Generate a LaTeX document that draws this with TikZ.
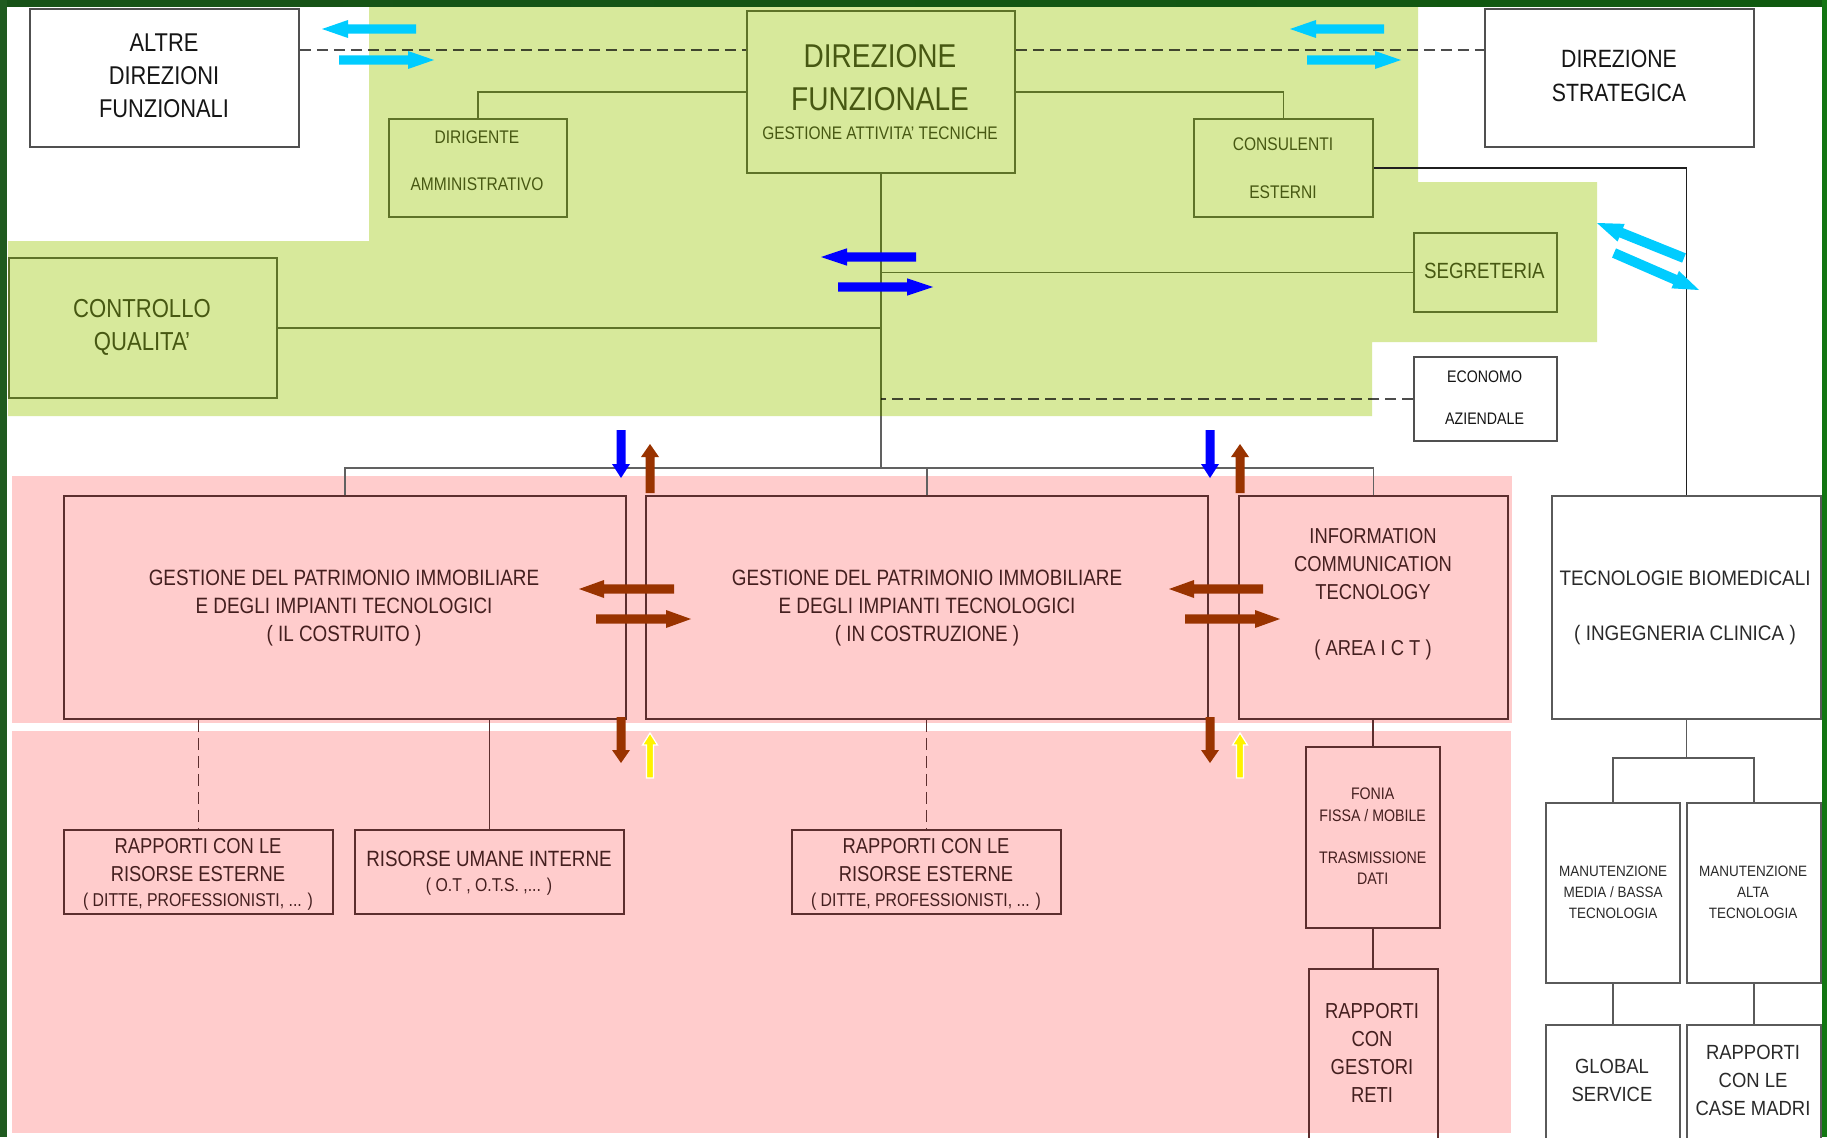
\documentclass[tikz,border=0pt]{standalone}
\usepackage{fontspec}
\setmainfont{Liberation Sans}
\newfontfamily\narrowf[FakeStretch=0.85]{Liberation Sans}
\newfontfamily\widef[FakeStretch=0.9]{Liberation Sans}
\usetikzlibrary{calc}
\newcommand{\fsz}[2]{\fontsize{#1}{#2}\selectfont}
\definecolor{gbg}{HTML}{D7E99B}
\definecolor{pbg}{HTML}{FFCCCC}
\definecolor{gedge}{HTML}{5E7328}
\definecolor{gtext}{HTML}{475812}
\definecolor{pedge}{HTML}{5C2E2E}
\definecolor{ptext}{HTML}{441F1F}
\definecolor{boxgray}{HTML}{505050}
\definecolor{rgray}{HTML}{5A5A5A}
\definecolor{tblack}{HTML}{151515}
\definecolor{rtext}{HTML}{2A2A2A}
\definecolor{cyanarr}{HTML}{00CCFF}
\definecolor{bluearr}{HTML}{0000FF}
\definecolor{brownarr}{HTML}{993300}
\definecolor{fdark}{HTML}{175217}
\definecolor{flight}{HTML}{4F8F3F}
\definecolor{fdarkr}{HTML}{105A10}
\definecolor{fleft}{HTML}{1F5A1F}
\definecolor{fright}{HTML}{127612}
\pgfdeclarelayer{bg}
\pgfdeclarelayer{lines}
\pgfdeclarelayer{front}
\pgfsetlayers{bg,lines,main,front}
\tikzset{
  sz/.style 2 args={minimum width=#1pt, minimum height=#2pt},
  wbox/.style={rectangle, inner sep=0, draw=boxgray, line width=1.8pt, fill=white},
  gbox/.style={rectangle, inner sep=0, draw=gedge, line width=1.8pt, fill=gbg},
  pbox/.style={rectangle, inner sep=0, draw=pedge, line width=1.6pt},
  rbox/.style={rectangle, inner sep=0, draw=rgray, line width=1.8pt, fill=white},
  txt/.style={inner sep=0, align=center},
  gline/.style={draw=gedge, line width=1.6pt},
  busline/.style={draw=black!62, line width=1.8pt},
  kline/.style={draw=black!88, line width=1.6pt},
  dline/.style={draw=black, draw opacity=0.7, line width=1.6pt, dash pattern=on 11pt off 6pt},
  pline/.style={draw=pedge, line width=1.6pt},
  pdash/.style={draw=pedge, line width=1.6pt, dash pattern=on 12pt off 6pt},
  rline/.style={draw=rgray, line width=1.6pt},
  cyanf/.style={fill=cyanarr},
  bluef/.style={fill=bluearr},
  brownf/.style={fill=brownarr},
  yellowf/.style={fill=yellow, draw=white, line width=1.2pt}
}
% fat arrow: style, tail, tip, half shaft, half head, head length
\newcommand{\fatarrow}[6]{%
  \coordinate (fa-t) at #2;
  \coordinate (fa-p) at #3;
  \coordinate (fa-b) at ($(fa-p)!#6!(fa-t)$);
  \path[#1] ($(fa-t)!#4!90:(fa-p)$) -- ($(fa-b)!#4!90:(fa-p)$) -- ($(fa-b)!#5!90:(fa-p)$) -- (fa-p)
    -- ($(fa-b)!#5!-90:(fa-p)$) -- ($(fa-b)!#4!-90:(fa-p)$) -- ($(fa-t)!#4!-90:(fa-p)$) -- cycle;
}
\begin{document}
\begin{tikzpicture}[x=1pt,y=-1pt]
\useasboundingbox (0,0) rectangle (1827,1137);
\begin{pgfonlayer}{bg}
  \fill[white] (0,0) rectangle (1827,1137);
  \fill[gbg] (369,7) -- (1418,7) -- (1418,182) -- (1597,182) -- (1597,342) -- (1372,342)
    -- (1372,416) -- (8,416) -- (8,241) -- (369,241) -- cycle;
  \fill[pbg] (12,476) rectangle (1512,723);
  \fill[pbg] (12,731) rectangle (1511,1133);
\end{pgfonlayer}

% ---------- boxes ----------
\node[wbox, sz={269}{138}] (alt) at (164.5,78) {};
\node[gbox, sz={268}{162}] (dirf) at (881,92) {};
\node[wbox, sz={269}{138}] (strat) at (1619.5,78) {};
\node[gbox, sz={178}{98}] (dirig) at (478,168) {};
\node[gbox, sz={179}{98}] (cons) at (1283.5,168) {};
\node[gbox, sz={143}{79}] (segr) at (1485.5,272.5) {};
\node[gbox, sz={268}{140}] (ctrl) at (143,328) {};
\node[wbox, sz={143}{84}] (econ) at (1485.5,399) {};
\node[pbox, sz={562}{223}] (g1) at (345,607.5) {};
\node[pbox, sz={562}{223}] (g2) at (927,607.5) {};
\node[pbox, sz={269}{223}] (ict) at (1373.5,607.5) {};
\node[rbox, sz={269}{223}] (tb) at (1686.5,607.5) {};
\node[pbox, sz={269}{84}] (rre1) at (198.5,872) {};
\node[pbox, sz={269}{84}] (rui) at (489.5,872) {};
\node[pbox, sz={269}{84}] (rre2) at (926.5,872) {};
\node[pbox, sz={134}{181}] (fonia) at (1373,837.5) {};
\node[pbox, sz={129}{176}] (gest) at (1373.5,1057) {};
\node[rbox, sz={134}{180}] (man1) at (1613,893) {};
\node[rbox, sz={134}{180}] (man2) at (1754,893) {};
\node[rbox, sz={134}{120}] (glob) at (1613,1085) {};
\node[rbox, sz={134}{120}] (casem) at (1754,1085) {};

% ---------- texts ----------
\node[txt, text=tblack, font=\narrowf\fsz{25.7}{33}] (talt) at (164,75.8) {ALTRE\\DIREZIONI\\FUNZIONALI};
\node[txt, text=gtext, font=\narrowf\fsz{33}{42.7}] (tdirf) at (880,77.9) {DIREZIONE\\FUNZIONALE};
\node[txt, text=gtext, font=\narrowf\fsz{18.2}{22}] (tdirfs) at (880,132.8) {GESTIONE ATTIVITA’ TECNICHE};
\node[txt, text=tblack, font=\narrowf\fsz{25}{33.4}] (tstrat) at (1619,76) {DIREZIONE\\STRATEGICA};
\node[txt, text=gtext, font=\narrowf\fsz{18.3}{47.4}] (tdirig) at (477,160.5) {DIRIGENTE\\AMMINISTRATIVO};
\node[txt, text=gtext, font=\narrowf\fsz{18.3}{47.6}] (tcons) at (1283,168) {CONSULENTI\\ESTERNI};
\node[txt, text=gtext, font=\narrowf\fsz{22}{26}] (tsegr) at (1484.4,271.4) {SEGRETERIA};
\node[txt, text=gtext, font=\narrowf\fsz{26}{33.3}] (tctrl) at (142,327.4) {CONTROLLO\\QUALITA’};
\node[txt, text=tblack, font=\narrowf\fsz{16.7}{42.3}] (tecon) at (1484.6,397.9) {ECONOMO\\AZIENDALE};
\node[txt, text=ptext, font=\narrowf\fsz{22.2}{28}] (tg1) at (344,607.9) {GESTIONE DEL PATRIMONIO IMMOBILIARE\\E DEGLI IMPIANTI TECNOLOGICI\\( IL COSTRUITO )};
\node[txt, text=ptext, font=\narrowf\fsz{22.2}{28}] (tg2) at (927,607.9) {GESTIONE DEL PATRIMONIO IMMOBILIARE\\E DEGLI IMPIANTI TECNOLOGICI\\( IN COSTRUZIONE )};
\node[txt, text=ptext, font=\narrowf\fsz{21.6}{28}] (tict) at (1373,594.5) {INFORMATION\\COMMUNICATION\\TECNOLOGY\\[28pt]( AREA I C T )};
\node[txt, text=ptext, font=\narrowf\fsz{21.6}{28}] (trre1) at (198,873.9) {RAPPORTI CON LE\\RISORSE ESTERNE\\[-3pt]{\fsz{18.6}{22}( DITTE, PROFESSIONISTI, ... )}};
\node[txt, text=ptext, font=\narrowf\fsz{22.1}{28}] (trui) at (489,873.3) {RISORSE UMANE INTERNE\\[-3pt]{\fsz{18.6}{22}( O.T , O.T.S. ,... )}};
\node[txt, text=ptext, font=\narrowf\fsz{21.6}{28}] (trre2) at (926,873.9) {RAPPORTI CON LE\\RISORSE ESTERNE\\[-3pt]{\fsz{18.6}{22}( DITTE, PROFESSIONISTI, ... )}};
\node[txt, text=ptext, font=\narrowf\fsz{16.7}{21.25}] (tfonia) at (1372.7,836.5) {FONIA\\FISSA / MOBILE\\[21.25pt]TRASMISSIONE\\DATI};
\node[txt, text=ptext, font=\narrowf\fsz{21.7}{28}] (tgest) at (1372,1053.4) {RAPPORTI\\CON\\GESTORI\\RETI};
\node[txt, text=rtext, font=\widef\fsz{21}{27.7}] (ttb) at (1685,608) {TECNOLOGIE BIOMEDICALI\\[27.7pt]( INGEGNERIA CLINICA )};
\node[txt, text=rtext, font=\widef\fsz{15}{21}] (tman1) at (1613,892.6) {MANUTENZIONE\\MEDIA / BASSA\\TECNOLOGIA};
\node[txt, text=rtext, font=\widef\fsz{15}{21}] (tman2) at (1753,892.6) {MANUTENZIONE\\ALTA\\TECNOLOGIA};
\node[txt, text=rtext, font=\widef\fsz{20.5}{28}] (tglob) at (1612,1080.7) {GLOBAL\\SERVICE};
\node[txt, text=rtext, font=\widef\fsz{20.5}{28}] (tcasem) at (1753,1080.7) {RAPPORTI\\CON LE\\CASE MADRI};

% ---------- connectors ----------
\begin{pgfonlayer}{lines}
  \coordinate (dashy) at (0,50);
  \draw[dline] (alt.east |- dashy) -- (dirf.west |- dashy);
  \draw[dline] (dirf.east |- dashy) -- (strat.west |- dashy);
  \draw[gline] (dirig.north) |- (dirf.west);
  \draw[gline] (dirf.east) -| (cons.north);
  \coordinate (gbot) at (881,416);
  \coordinate (bus) at (881,468);
  \draw[gline] (dirf.south) -- (gbot);
  \draw[busline] (gbot) -- (bus);
  \draw[gline] (segr.west) -- (segr.west -| dirf.south);
  \draw[gline] (ctrl.east) -- (ctrl.east -| dirf.south);
  \draw[dline] (econ.west) -- (econ.west -| dirf.south);
  \draw[kline] (cons.east) -| (tb.north);
  \draw[busline] (g1.north) |- (ict.north |- bus) -- (ict.north);
  \draw[busline] (g2.north) -- (g2.north |- bus);
  \draw[pdash] (g1.south -| rre1.north) -- (rre1.north);
  \draw[pline] (g1.south -| rui.north) -- (rui.north);
  \draw[pdash] (g2.south -| rre2.north) -- (rre2.north);
  \draw[pline] (ict.south -| fonia.north) -- (fonia.north);
  \draw[pline] (fonia.south) -- (gest.north -| fonia.south);
  \coordinate (tbbar) at (1686.5,758);
  \draw[rline] (tb.south) -- (tbbar);
  \draw[rline] (man1.north) |- (tbbar) -| (man2.north);
  \draw[rline] (man1.south) -- (glob.north);
  \draw[rline] (man2.south) -- (casem.north);
\end{pgfonlayer}

% ---------- arrows and frame ----------
\begin{pgfonlayer}{front}
  \fatarrow{cyanf}{(416,29)}{(322,29)}{4.7pt}{9pt}{26pt}
  \fatarrow{cyanf}{(339,60)}{(434,60)}{4.7pt}{9pt}{26pt}
  \fatarrow{cyanf}{(1384,29)}{(1290,29)}{4.7pt}{9pt}{26pt}
  \fatarrow{cyanf}{(1307,60)}{(1401,60)}{4.7pt}{9pt}{26pt}
  \fatarrow{cyanf}{(1684,258)}{(1597,223)}{5pt}{9.5pt}{26pt}
  \fatarrow{cyanf}{(1614,253)}{(1699,290)}{5pt}{9.5pt}{26pt}
  \fatarrow{bluef}{(916,257)}{(821,257)}{4.7pt}{8.7pt}{26pt}
  \fatarrow{bluef}{(838,287)}{(933,287)}{4.7pt}{8.7pt}{26pt}
  \fatarrow{bluef}{(621,430)}{(621,478)}{4.5pt}{9pt}{14pt}
  \fatarrow{bluef}{(1210,430)}{(1210,478)}{4.5pt}{9pt}{14pt}
  \fatarrow{brownf}{(674,589)}{(579,589)}{4.7pt}{9pt}{25pt}
  \fatarrow{brownf}{(596,619)}{(691,619)}{4.7pt}{9pt}{25pt}
  \fatarrow{brownf}{(1263,589)}{(1169,589)}{4.7pt}{9pt}{25pt}
  \fatarrow{brownf}{(1185,619)}{(1280,619)}{4.7pt}{9pt}{25pt}
  \fatarrow{brownf}{(650,493)}{(650,444)}{4.5pt}{9pt}{13pt}
  \fatarrow{brownf}{(1240,493)}{(1240,444)}{4.5pt}{9pt}{13pt}
  \fatarrow{brownf}{(621,717)}{(621,763)}{4.5pt}{9pt}{13pt}
  \fatarrow{brownf}{(1210,717)}{(1210,763)}{4.5pt}{9pt}{13pt}
  \fatarrow{yellowf}{(650,778)}{(650,733)}{3.5pt}{7.5pt}{12pt}
  \fatarrow{yellowf}{(1240,778)}{(1240,733)}{3.5pt}{7.5pt}{12pt}
  \shade[left color=fdark, middle color=flight, right color=fdarkr] (0,0) rectangle (1827,7);
  \fill[fleft] (0,0) rectangle (7,1137);
  \fill[fright] (1822,0) rectangle (1827,1137);
\end{pgfonlayer}
\end{tikzpicture}
\end{document}
